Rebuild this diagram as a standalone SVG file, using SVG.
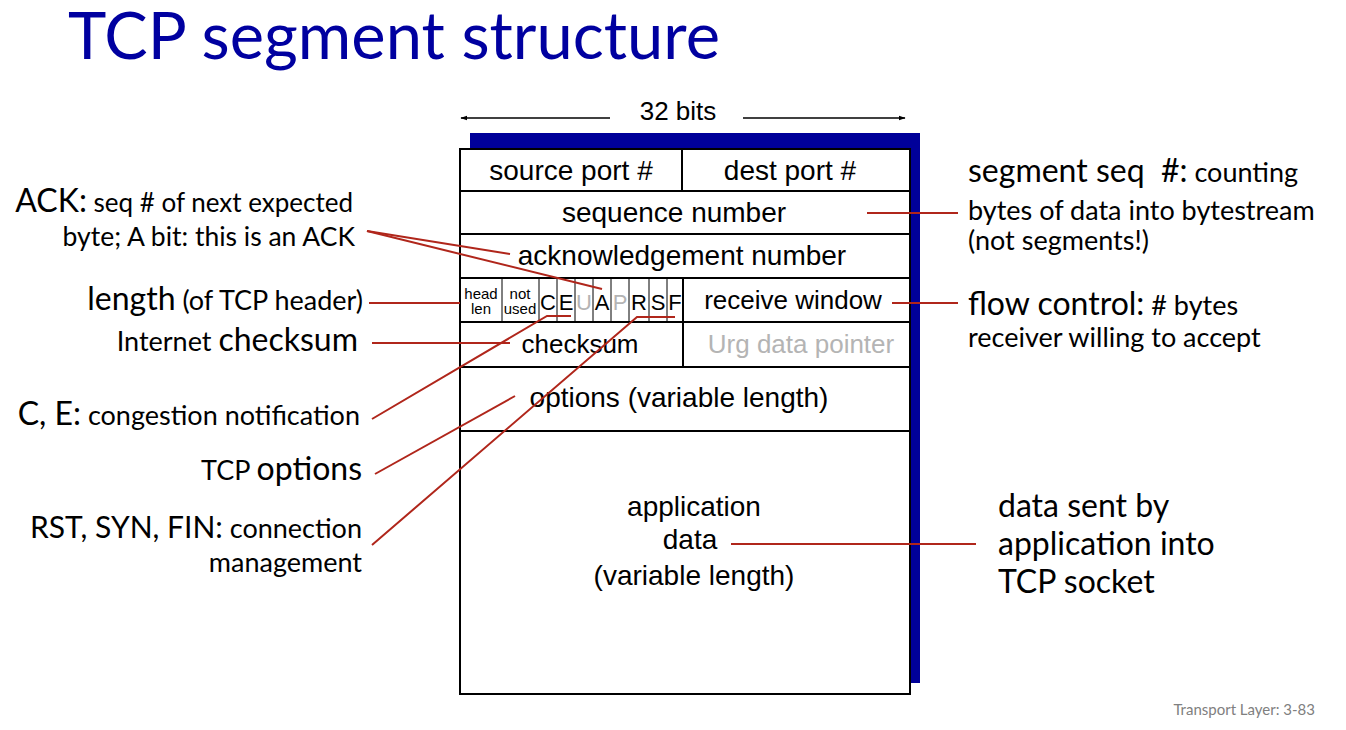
<svg xmlns="http://www.w3.org/2000/svg" width="1346" height="730" viewBox="0 0 1346 730">
<defs>
<marker id="ah" viewBox="0 0 10 10" refX="9" refY="5" markerWidth="7" markerHeight="7" orient="auto-start-reverse" markerUnits="userSpaceOnUse">
<path d="M0,1.5 L10,5 L0,8.5 z" fill="#000"/>
</marker>
<style>
.f{font-family:"Liberation Sans",Arial,sans-serif;fill:#000;text-anchor:middle}
.a{font-family:Lato,"Open Sans",sans-serif;fill:#000}
.r{text-anchor:end}
.s{font-size:27px}
.L{font-size:32px}
.g{fill:#b4b4b4}
.ln{stroke:#000;stroke-width:2;fill:none}
.box{stroke:#000;stroke-width:2;fill:#fff}
.tn{stroke:#000;stroke-width:1;fill:none}
.c{stroke:#b0261b;stroke-width:2;fill:none}
</style>
</defs>
<rect width="1346" height="730" fill="#fff"/>
<text x="68" y="59" font-family="Lato,'Open Sans',sans-serif" font-size="65" fill="#0000a0">TCP segment structure</text>

<g id="width-indicator">
<line x1="610" y1="118" x2="461" y2="118" stroke="#000" stroke-width="1.5" marker-end="url(#ah)"/>
<line x1="743" y1="118" x2="905" y2="118" stroke="#000" stroke-width="1.5" marker-end="url(#ah)"/>
<text class="f" x="678" y="120" font-size="26">32 bits</text>
</g>

<g id="segment">
<rect x="470" y="133" width="450" height="550" fill="#000099"/>
<rect x="460" y="149" width="450" height="545" class="box"/>
<line class="ln" x1="460" y1="191" x2="910" y2="191"/>
<line class="ln" x1="460" y1="234" x2="910" y2="234"/>
<line class="ln" x1="460" y1="278" x2="910" y2="278"/>
<line class="ln" x1="460" y1="322" x2="910" y2="322"/>
<line class="ln" x1="460" y1="367" x2="910" y2="367"/>
<line class="ln" x1="460" y1="431" x2="910" y2="431"/>
<line class="ln" x1="682" y1="149" x2="682" y2="191"/>
<line class="ln" x1="683" y1="278" x2="683" y2="367"/>
<g class="tn">
<line x1="502" y1="278" x2="502" y2="322"/>
<line x1="539" y1="278" x2="539" y2="322"/>
<line x1="557" y1="278" x2="557" y2="322"/>
<line x1="575" y1="278" x2="575" y2="322"/>
<line x1="593" y1="278" x2="593" y2="322"/>
<line x1="611" y1="278" x2="611" y2="322"/>
<line x1="629" y1="278" x2="629" y2="322"/>
<line x1="649" y1="278" x2="649" y2="322"/>
<line x1="667" y1="278" x2="667" y2="322"/>
</g>
</g>

<g id="fields">
<text class="f" x="571" y="180" font-size="28">source port #</text>
<text class="f" x="790" y="180" font-size="28">dest port #</text>
<text class="f" x="674" y="222" font-size="28">sequence number</text>
<text class="f" x="682" y="265" font-size="28">acknowledgement number</text>
<text class="f" x="481" y="299" font-size="15">head</text>
<text class="f" x="481" y="314" font-size="15">len</text>
<text class="f" x="520" y="299" font-size="15">not</text>
<text class="f" x="520" y="314" font-size="15">used</text>
<text class="f" x="548" y="310" font-size="22">C</text>
<text class="f" x="566" y="310" font-size="22">E</text>
<text class="f g" x="584" y="310" font-size="22">U</text>
<text class="f" x="602" y="310" font-size="22">A</text>
<text class="f g" x="620" y="310" font-size="22">P</text>
<text class="f" x="639" y="310" font-size="22">R</text>
<text class="f" x="658" y="310" font-size="22">S</text>
<text class="f" x="675" y="310" font-size="22">F</text>
<text class="f" x="793" y="309" font-size="26">receive window</text>
<text class="f" x="580" y="353" font-size="26">checksum</text>
<text class="f g" x="801" y="353" font-size="26">Urg data pointer</text>
<text class="f" x="679" y="407" font-size="28">options (variable length)</text>
<text class="f" x="694" y="516" font-size="28">application</text>
<text class="f" x="690" y="549" font-size="28">data</text>
<text class="f" x="694" y="585" font-size="28">(variable length)</text>
</g>

<g id="connectors">
<polyline class="c" points="367,231 510,254"/>
<polyline class="c" points="367,231 602,289"/>
<polyline class="c" points="369,303 460,303"/>
<polyline class="c" points="372,343 510,343"/>
<polyline class="c" points="372,419 547,316 571,316"/>
<polyline class="c" points="375,474 515,396"/>
<polyline class="c" points="372,545 637,317 675,317"/>
<polyline class="c" points="867,213 958,213"/>
<polyline class="c" points="892,303 958,303"/>
<polyline class="c" points="731,544 976,544"/>
</g>

<g id="note-ack">
<text class="a r" x="353" y="212"><tspan class="L">ACK:</tspan><tspan font-size="26"> seq # of next expected</tspan></text>
<text class="a r" x="355" y="246" font-size="26.5">byte; A bit: this is an ACK</text>
</g>
<g id="note-length">
<text class="a r" x="363" y="310"><tspan class="L">length</tspan><tspan class="s"> (of TCP header)</tspan></text>
</g>
<g id="note-checksum">
<text class="a r" x="358" y="351"><tspan class="s">Internet </tspan><tspan class="L">checksum</tspan></text>
</g>
<g id="note-ce">
<text class="a r" x="360" y="425"><tspan class="L">C, E:</tspan><tspan class="s"> congestion notification</tspan></text>
</g>
<g id="note-options">
<text class="a r" x="362" y="480"><tspan class="s">TCP </tspan><tspan class="L">options</tspan></text>
</g>
<g id="note-rsf">
<text class="a r" x="362" y="538"><tspan font-size="30">RST, SYN, FIN:</tspan><tspan class="s"> connection</tspan></text>
<text class="a r s" x="362" y="572">management</text>
</g>
<g id="note-seq">
<text class="a" x="968" y="182" style="white-space:pre"><tspan class="L">segment seq  #:</tspan><tspan class="s"> counting</tspan></text>
<text class="a s" x="968" y="220">bytes of data into bytestream</text>
<text class="a s" x="968" y="250">(not segments!)</text>
</g>
<g id="note-flow">
<text class="a" x="968" y="315"><tspan class="L">flow control:</tspan><tspan class="s"> # bytes</tspan></text>
<text class="a s" x="968" y="347">receiver willing to accept</text>
</g>
<g id="note-data">
<text class="a L" x="998" y="517">data sent by</text>
<text class="a L" x="998" y="555">application into</text>
<text class="a L" x="998" y="593">TCP socket</text>
</g>
<text class="a" x="1315" y="715" font-size="15" style="fill:#808080" text-anchor="end">Transport Layer: 3-83</text>
</svg>
